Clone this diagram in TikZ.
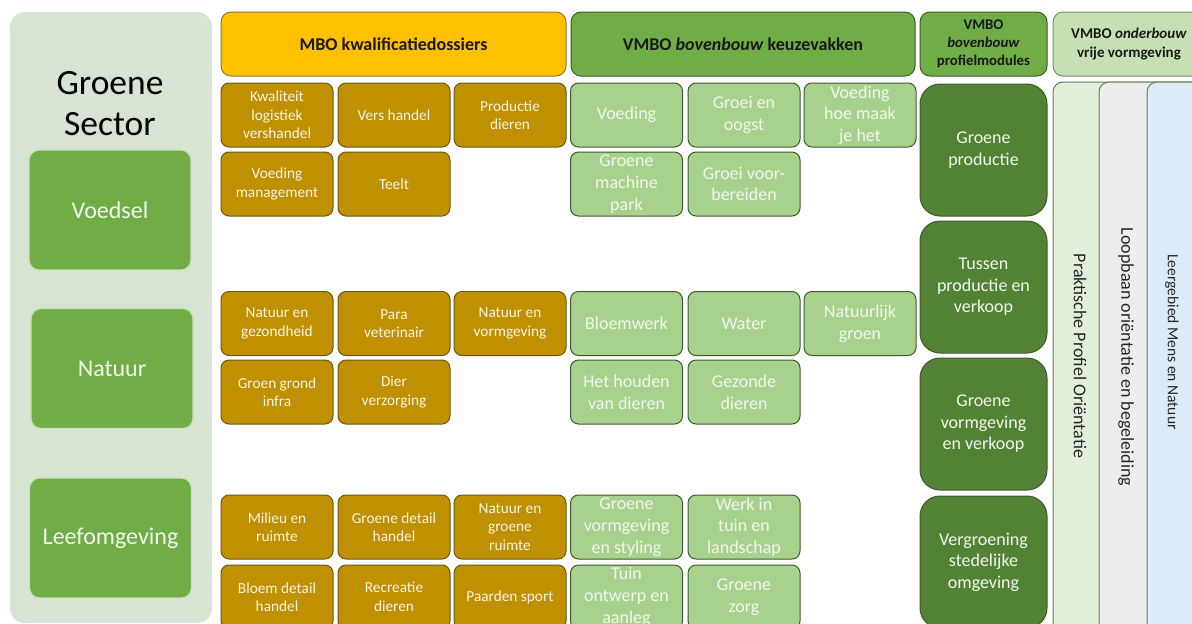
\documentclass[tikz,border=0pt]{standalone}
\usepackage{fontspec}
\setmainfont{Carlito}
\definecolor{panel}{HTML}{D7E4D3}
\definecolor{sectorgreen}{HTML}{70AD47}
\definecolor{sectorline}{HTML}{C9E2B9}
\definecolor{mboyellow}{HTML}{FFC000}
\definecolor{mbobrown}{HTML}{BF9000}
\definecolor{mboline}{HTML}{6B5A14}
\definecolor{keuzegreen}{HTML}{A9D18E}
\definecolor{headgreen}{HTML}{70AD47}
\definecolor{modgreen}{HTML}{548235}
\definecolor{darkline}{HTML}{3E5A2E}
\definecolor{lightgreen}{HTML}{C5E0B4}
\definecolor{ppogreen}{HTML}{E2EFDA}
\definecolor{lobgrey}{HTML}{EDEDED}
\definecolor{mnblue}{HTML}{DDEBF7}
\definecolor{boxtext}{HTML}{F7F3E8}
\definecolor{greentext}{HTML}{F1F7EC}
\tikzset{
  box/.style={draw, rounded corners=8pt, align=center, inner sep=1pt, line width=1pt},
  small/.style={box, minimum width=112pt, minimum height=64pt},
  mbobox/.style={small, fill=mbobrown, draw=mboline, text=boxtext, font=\fontsize{15.3}{18.5}\selectfont},
  keuzebox/.style={small, fill=keuzegreen, draw=darkline, text=greentext, font=\fontsize{18}{21.7}\selectfont},
  modbox/.style={box, rounded corners=20pt, fill=modgreen, draw=darkline, text=greentext, minimum width=127pt, minimum height=132pt, font=\fontsize{18}{21.5}\selectfont},
  sectorbox/.style={box, rounded corners=10pt, fill=sectorgreen, draw=sectorline, line width=1.2pt, text=greentext, minimum width=162pt, minimum height=120pt, font=\fontsize{24}{29}\selectfont},
  head/.style={box, rounded corners=10pt, minimum height=64pt, text=black!90, font=\bfseries\fontsize{18}{21}\selectfont},
  colbox/.style={draw=darkline!80, line width=1pt, rounded corners=10pt},
  coltext/.style={rotate=-90, text=black!85, font=\fontsize{18}{22}\selectfont}
}
\begin{document}
\begin{tikzpicture}[x=1pt,y=-1pt]
  \fill[white] (0,0) rectangle (1192,624);
  \useasboundingbox (0,0) rectangle (1192,624);
  % linker paneel
  \fill[panel, rounded corners=15pt] (10,12) rectangle (212,623);
  \node[font=\fontsize{35.5}{41}\selectfont, align=center] (sector) at (110,104) {Groene\\Sector};
  \node[sectorbox] (voedsel) at (110,210) {Voedsel};
  \node[sectorbox] (natuur) at (112,368.5) {Natuur};
  \node[sectorbox] (leef) at (110.5,538) {Leefomgeving};
  % kolomkoppen
  \node[head, fill=mboyellow, draw=mboline!80, minimum width=345pt] (mbo) at (393.5,44) {MBO kwalificatiedossiers};
  \node[head, fill=headgreen, draw=darkline, minimum width=344pt] (keuze) at (743,44) {VMBO \textit{bovenbouw} keuzevakken};
  \node[head, fill=headgreen, draw=darkline, minimum width=127pt, font=\bfseries\fontsize{14.8}{18}\selectfont] (profiel) at (983.5,44) {VMBO\\\textit{bovenbouw}\\profielmodules};
  \node[head, fill=lightgreen, draw=darkline!70, minimum width=152pt, font=\bfseries\fontsize{15}{18.5}\selectfont] (onderbouw) at (1129,44) {VMBO \textit{onderbouw}\\vrije vormgeving};
  % MBO - voedsel
  \node[mbobox] (kwaliteit) at (277,115) {Kwaliteit\\logistiek\\vershandel};
  \node[mbobox] (vers) at (394,115) {Vers handel};
  \node[mbobox] (proddieren) at (510,115) {Productie\\dieren};
  \node[mbobox] (voedman) at (277,184) {Voeding\\management};
  \node[mbobox] (teelt) at (394,184) {Teelt};
  % MBO - natuur
  \node[mbobox] (natgez) at (277,323.5) {Natuur en\\gezondheid};
  \node[mbobox] (para) at (394,323.5) {Para\\veterinair};
  \node[mbobox] (natvorm) at (510,323.5) {Natuur en\\vormgeving};
  \node[mbobox] (grond) at (277,392) {Groen grond\\infra};
  \node[mbobox] (dierverz) at (394,392) {Dier\\verzorging};
  % MBO - leefomgeving
  \node[mbobox] (milieu) at (277,527) {Milieu en\\ruimte};
  \node[mbobox] (groendetail) at (394,527) {Groene detail\\handel};
  \node[mbobox] (natruimte) at (510,527) {Natuur en\\groene\\ruimte};
  \node[mbobox] (bloemdetail) at (277,597) {Bloem detail\\handel};
  \node[mbobox] (recreatie) at (394,597) {Recreatie\\dieren};
  \node[mbobox] (paarden) at (510,597) {Paarden sport};
  % keuzevakken - voedsel
  \node[keuzebox] (voeding) at (626.5,115) {Voeding};
  \node[keuzebox] (groei) at (744,115) {Groei en\\oogst};
  \node[keuzebox] (hoemaak) at (860,115) {Voeding\\hoe maak\\je het};
  \node[keuzebox] (machine) at (626.5,184) {Groene\\machine\\park};
  \node[keuzebox] (voorber) at (744,184) {Groei voor-\\bereiden};
  % keuzevakken - natuur
  \node[keuzebox] (bloemwerk) at (626.5,323.5) {Bloemwerk};
  \node[keuzebox] (water) at (744,323.5) {Water};
  \node[keuzebox] (natgroen) at (860,323.5) {Natuurlijk\\groen};
  \node[keuzebox] (houden) at (626.5,392) {Het houden\\van dieren};
  \node[keuzebox] (gezond) at (744,392) {Gezonde\\dieren};
  % keuzevakken - leefomgeving
  \node[keuzebox] (styling) at (626.5,527) {Groene\\vormgeving\\en styling};
  \node[keuzebox] (tuinland) at (744,527) {Werk in\\tuin en\\landschap};
  \node[keuzebox] (tuinontw) at (626.5,597) {Tuin\\ontwerp en\\aanleg};
  \node[keuzebox] (zorg) at (744,597) {Groene\\zorg};
  % profielmodules
  \node[modbox] (groenprod) at (983.5,150) {Groene\\productie};
  \node[modbox] (tussen) at (983.5,287) {Tussen\\productie en\\verkoop};
  \node[modbox] (groenverk) at (983.5,424) {Groene\\vormgeving\\en verkoop};
  \node[modbox] (vergroen) at (983.5,562) {Vergroening\\stedelijke\\omgeving};
  % onderbouw kolommen
  \draw[colbox, fill=ppogreen] (1053,82) rectangle (1220,650);
  \draw[colbox, fill=lobgrey] (1099,82) rectangle (1220,650);
  \draw[colbox, fill=mnblue] (1147,82) rectangle (1220,650);
  \node[coltext] (ppo) at (1080,356) {Praktische Profiel Oriëntatie};
  \node[coltext] (lob) at (1126,357) {Loopbaan oriëntatie en begeleiding};
  \node[coltext, font=\fontsize{15.5}{19}\selectfont] (mensnatuur) at (1172,342) {Leergebied Mens en Natuur};
\end{tikzpicture}
\end{document}
